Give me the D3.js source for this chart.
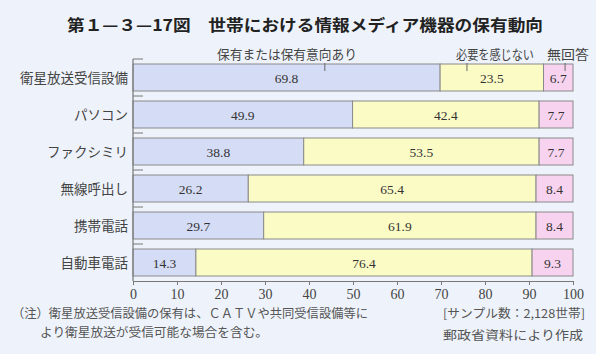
<!DOCTYPE html>
<html><head><meta charset="utf-8">
<script src="https://cdn.jsdelivr.net/npm/d3@7"></script>
<style>
html,body{margin:0;padding:0;background:#eef3fb;}
svg{display:block;}
</style></head>
<body>
<svg id="c" width="596" height="354"></svg>
<script>
const categories = ["衛星放送受信設備","パソコン","ファクシミリ","無線呼出し","携帯電話","自動車電話"];
const seriesNames = ["保有または保有意向あり","必要を感じない","無回答"];
const ownValues = [69.8, 49.9, 38.8, 26.2, 29.7, 14.3];
const noNeedValues = [23.5, 42.4, 53.5, 65.4, 61.9, 76.4];
const noAnswerValues = [6.7, 7.7, 7.7, 8.4, 8.4, 9.3];
const xTicks = [0,10,20,30,40,50,60,70,80,90,100];
const legendMarks = [43.6, 75.9, 98.2];

const colors = ["#d5dcf5", "#fbfbc6", "#f8d3f0"];
const svg = d3.select("#c");
const serifJP = "'Liberation Serif','Noto Sans CJK JP',serif";
const sansJP = "'Noto Sans CJK JP','Noto Sans',sans-serif";

const x = d3.scaleLinear().domain([0,100]).range([133,573]);
const y = d3.scaleBand().domain(categories).range([59,281]).padding(0);

// title
svg.append("text").attr("x",67).attr("y",31)
  .attr("font-family",sansJP).attr("font-weight","bold").attr("font-size",16)
  .attr("fill","#222").attr("textLength",476).attr("lengthAdjust","spacingAndGlyphs")
  .text("第１—３—17図　世帯における情報メディア機器の保有動向");

// legend labels
const legendPos = [[217,140],[456,78],[547,42]];
seriesNames.forEach((s,i)=>{
  svg.append("text").attr("x",legendPos[i][0]).attr("y",59)
    .attr("font-family",sansJP).attr("font-size",13).attr("fill","#444")
    .attr("textLength",legendPos[i][1]).attr("lengthAdjust","spacingAndGlyphs")
    .text(s);
});

// stacked data
const rows = categories.map((c,i)=>({c, vals:[ownValues[i], noNeedValues[i], noAnswerValues[i]]}));
const g = svg.append("g");
rows.forEach(r=>{
  let acc = 0;
  r.vals.forEach((v,k)=>{
    const x0 = x(acc), x1 = x(acc+v);
    g.append("rect").attr("x",x0).attr("y",y(r.c)+5)
      .attr("width",x1-x0).attr("height",y.bandwidth()-10)
      .attr("fill",colors[k]).attr("stroke","#8a8a8a").attr("stroke-width",1);
    g.append("text").attr("x",(x0+x1)/2).attr("y",y(r.c)+y.bandwidth()/2+5)
      .attr("text-anchor","middle").attr("font-family",serifJP).attr("font-size",13.5)
      .attr("fill","#333").text(v.toFixed(1));
    acc += v;
  });
});

// category labels
categories.forEach(c=>{
  svg.append("text").attr("x",128).attr("y",y(c)+y.bandwidth()/2+5)
    .attr("text-anchor","end").attr("font-family",sansJP).attr("font-size",13.5)
    .attr("fill","#444").text(c);
});

// left axis line and separators
svg.append("line").attr("x1",133).attr("x2",133).attr("y1",59).attr("y2",281)
  .attr("stroke","#777").attr("stroke-width",1.2);
categories.forEach(c=>{
  svg.append("line").attr("x1",133).attr("x2",143).attr("y1",y(c)).attr("y2",y(c))
    .attr("stroke","#777").attr("stroke-width",1);
});

// legend pointer marks
legendMarks.forEach(m=>{
  svg.append("line").attr("x1",x(m)).attr("x2",x(m)).attr("y1",y(categories[0])+4).attr("y2",y(categories[0])+12)
    .attr("stroke","#666").attr("stroke-width",1);
});

// bottom axis
const axis = d3.axisBottom(x).tickValues(xTicks).tickSize(4).tickPadding(4).tickSizeOuter(0);
const ga = svg.append("g").attr("transform","translate(0,281)").call(axis);
ga.select(".domain").attr("stroke","#777").attr("stroke-width",1.2);
ga.selectAll(".tick line").attr("stroke","#777");
ga.selectAll(".tick text").attr("font-family",serifJP).attr("font-size",14).attr("fill","#444");

// footnotes
svg.append("text").attr("x",12).attr("y",318).attr("font-family",sansJP).attr("font-size",12.5)
  .attr("fill","#555").attr("textLength",356).attr("lengthAdjust","spacingAndGlyphs")
  .text("（注）衛星放送受信設備の保有は、ＣＡＴＶや共同受信設備等に");
svg.append("text").attr("x",40).attr("y",337).attr("font-family",sansJP).attr("font-size",12.5)
  .attr("fill","#555").attr("textLength",228).attr("lengthAdjust","spacingAndGlyphs")
  .text("より衛星放送が受信可能な場合を含む。");
svg.append("text").attr("x",443).attr("y",318).attr("font-family",sansJP).attr("font-size",12)
  .attr("fill","#555").attr("textLength",142).attr("lengthAdjust","spacingAndGlyphs")
  .text("[サンプル数：2,128世帯]");
svg.append("text").attr("x",443).attr("y",340).attr("font-family",sansJP).attr("font-size",12.5)
  .attr("fill","#555").attr("textLength",140).attr("lengthAdjust","spacingAndGlyphs")
  .text("郵政省資料により作成");
</script>
</body></html>
